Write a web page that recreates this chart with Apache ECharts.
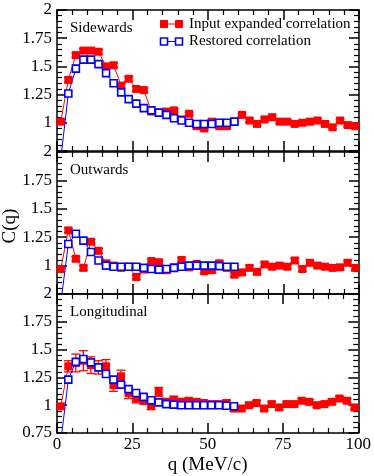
<!DOCTYPE html>
<html>
<head>
<meta charset="utf-8">
<script src="https://cdn.jsdelivr.net/npm/echarts@6/dist/echarts.min.js"></script>
<style>
  html, body { margin: 0; padding: 0; background: #fff; }
  #chart { width: 374px; height: 476px; }
</style>
</head>
<body>
<div id="chart"></div>
<script>
// bin centres (MeV/c)
const qRed = [1.25, 3.75, 6.25, 8.75, 11.25, 13.75, 16.25, 18.75, 21.25, 23.75,
  26.25, 28.75, 31.25, 33.75, 36.25, 38.75, 41.25, 43.75, 46.25, 48.75,
  51.25, 53.75, 56.25, 58.75, 61.25, 63.75, 66.25, 68.75, 71.25, 73.75,
  76.25, 78.75, 81.25, 83.75, 86.25, 88.75, 91.25, 93.75, 96.25, 98.75];
const qBlue = [1.25, 3.75, 6.25, 8.75, 11.25, 13.75, 16.25, 18.75, 21.25, 23.75,
  26.25, 28.75, 31.25, 33.75, 36.25, 38.75, 41.25, 43.75, 46.25, 48.75,
  51.25, 53.75, 56.25, 58.75];

const panelNames = ['Sidewards', 'Outwards', 'Longitudinal'];
const seriesNames = ['Input expanded correlation', 'Restored correlation'];

// input expanded correlation (red)
const sideInput = [1.01, 1.38, 1.60, 1.64, 1.64, 1.63, 1.50, 1.51, 1.33, 1.39,
  1.30, 1.29, 1.10, 1.09, 1.10, 1.11, 1.03, 1.08, 0.97, 0.95,
  1.01, 0.97, 0.97, 1.01, 1.07, 1.02, 0.99, 1.03, 1.05, 1.01,
  1.01, 0.99, 1.00, 1.01, 1.02, 0.99, 0.96, 1.02, 0.98, 0.97];
const outInput = [0.97, 1.31, 1.06, 0.98, 1.21, 1.13, 1.02, 1.00, 0.98, 0.99,
  0.90, 0.965, 1.04, 1.03, 0.96, 0.985, 1.05, 0.985, 1.015, 0.95,
  0.96, 1.02, 0.98, 0.92, 0.94, 0.98, 0.945, 1.01, 0.99, 1.00,
  0.99, 1.045, 0.97, 1.025, 1.00, 0.99, 0.98, 0.985, 1.025, 0.98];
const longInput = [0.99, 1.35, 1.38, 1.40, 1.36, 1.34, 1.35, 1.18, 1.26, 1.11,
  1.06, 1.04, 1.00, 1.12, 1.03, 1.05, 1.03, 1.04, 1.03, 1.02,
  1.01, 1.01, 1.02, 0.97, 0.97, 1.00, 1.02, 0.97, 1.01, 0.98,
  1.01, 1.01, 1.04, 1.03, 1.00, 1.01, 1.03, 1.06, 1.04, 0.98];

// error bar half-heights of the input points
const sideErr = [0.02, 0.02, 0.02, 0.02, 0.02, 0.02, 0.02, 0.02, 0.02, 0.02,
  0.02, 0.02, 0.015, 0.015, 0.015, 0.015, 0.015, 0.015, 0.015, 0.015,
  0.015, 0.015, 0.015, 0.015, 0.015, 0.015, 0.015, 0.015, 0.015, 0.015,
  0.015, 0.015, 0.015, 0.015, 0.015, 0.015, 0.015, 0.015, 0.015, 0.015];
const outErr = [0.02, 0.02, 0.02, 0.02, 0.02, 0.02, 0.02, 0.02, 0.02, 0.02,
  0.02, 0.02, 0.02, 0.02, 0.02, 0.02, 0.02, 0.02, 0.02, 0.02,
  0.02, 0.02, 0.02, 0.02, 0.02, 0.02, 0.02, 0.02, 0.02, 0.02,
  0.02, 0.02, 0.02, 0.02, 0.02, 0.02, 0.02, 0.02, 0.02, 0.02];
const longErr = [0.02, 0.05, 0.08, 0.09, 0.075, 0.06, 0.06, 0.055, 0.055, 0.05,
  0.04, 0.03, 0.04, 0.04, 0.03, 0.03, 0.03, 0.025, 0.025, 0.025,
  0.025, 0.025, 0.025, 0.025, 0.02, 0.02, 0.02, 0.02, 0.02, 0.02,
  0.02, 0.02, 0.02, 0.02, 0.02, 0.02, 0.02, 0.02, 0.02, 0.02];

// restored correlation (blue); first bin lies below the axis range
const sideRestored = [0.68, 1.26, 1.48, 1.56, 1.56, 1.52, 1.44, 1.35, 1.27, 1.21,
  1.17, 1.13, 1.11, 1.09, 1.07, 1.04, 1.02, 1.00, 0.99, 0.99,
  0.99, 1.00, 1.00, 1.01];
const outRestored = [0.67, 1.19, 1.28, 1.22, 1.12, 1.045, 1.00, 0.99, 0.99, 0.99,
  0.99, 0.98, 0.97, 0.965, 0.97, 0.98, 0.99, 1.00, 1.00, 1.00,
  1.00, 0.995, 0.99, 0.99];
const longRestored = [0.67, 1.23, 1.39, 1.415, 1.385, 1.34, 1.28, 1.23, 1.185, 1.145,
  1.11, 1.075, 1.045, 1.025, 1.01, 1.005, 1.00, 1.00, 1.00, 1.00,
  1.00, 1.00, 0.995, 0.99];

const yTicks = [0.75, 1, 1.25, 1.5, 1.75, 2];
const xTicks = [0, 25, 50, 75, 100];

const inputs = [sideInput, outInput, longInput];
const errs = [sideErr, outErr, longErr];
const restored = [sideRestored, outRestored, longRestored];

const FONT = '"Liberation Serif", "DejaVu Serif", serif';
const RED = '#ff0000';
const BLUE = '#0000ff';
const tops = [10, 152, 294];
const heights = [141, 142, 143];

const chart = echarts.init(document.getElementById('chart'));

const grid = [], xAxis = [], yAxis = [], series = [], graphic = [];

function xAx(i, pos, labels) {
  return {
    type: 'value', gridIndex: i, position: pos,
    min: xTicks[0], max: xTicks[xTicks.length - 1], interval: xTicks[1] - xTicks[0],
    axisLine: { onZero: false, lineStyle: { color: '#000', width: 1.5 } },
    axisTick: { inside: true, length: 10, lineStyle: { color: '#000', width: 1.5 } },
    minorTick: { show: true, splitNumber: 5, length: 5, lineStyle: { color: '#000', width: 1.2 } },
    splitLine: { show: false },
    axisLabel: { show: labels, color: '#000', fontFamily: FONT, fontSize: 17, margin: 3 },
    name: labels ? 'q (MeV/c)' : '',
    nameLocation: 'middle', nameGap: 23,
    nameTextStyle: { color: '#000', fontFamily: FONT, fontSize: 19 }
  };
}

function yAx(i, pos, labels) {
  return {
    type: 'value', gridIndex: i, position: pos,
    min: yTicks[0], max: yTicks[yTicks.length - 1], interval: yTicks[1] - yTicks[0],
    axisLine: { onZero: false, lineStyle: { color: '#000', width: 1.5 } },
    axisTick: { inside: true, length: 10, lineStyle: { color: '#000', width: 1.5 } },
    minorTick: { show: true, splitNumber: 5, length: 5, lineStyle: { color: '#000', width: 1.2 } },
    splitLine: { show: false },
    axisLabel: {
      show: labels, color: '#000', fontFamily: FONT, fontSize: 17, margin: 5,
      showMinLabel: true, showMaxLabel: true,
      formatter: v => (v === yTicks[0] && i < 2) ? '' : String(v)
    }
  };
}

for (let i = 0; i < 3; i++) {
  grid.push({ left: 57, right: 15, top: tops[i], height: heights[i] });
  xAxis.push(xAx(i, 'bottom', i === 2), xAx(i, 'top', false));
  yAxis.push(yAx(i, 'left', true), yAx(i, 'right', false));

  series.push({
    type: 'custom', xAxisIndex: 2 * i, yAxisIndex: 2 * i, clip: true,
    encode: { x: 0, y: [1, 2] },
    data: qRed.map((q, k) => [q, inputs[i][k] - errs[i][k], inputs[i][k] + errs[i][k]]),
    renderItem: (params, api) => {
      const p1 = api.coord([api.value(0), api.value(1)]);
      const p2 = api.coord([api.value(0), api.value(2)]);
      const w = 4.5;
      const st = { stroke: RED, lineWidth: 1.3 };
      return {
        type: 'group', children: [
          { type: 'line', shape: { x1: p1[0], y1: p1[1], x2: p2[0], y2: p2[1] }, style: st },
          { type: 'line', shape: { x1: p1[0] - w, y1: p1[1], x2: p1[0] + w, y2: p1[1] }, style: st },
          { type: 'line', shape: { x1: p2[0] - w, y1: p2[1], x2: p2[0] + w, y2: p2[1] }, style: st }
        ]
      };
    }
  });
  series.push({
    name: seriesNames[0], type: 'line', xAxisIndex: 2 * i, yAxisIndex: 2 * i,
    data: qRed.map((q, k) => [q, inputs[i][k]]),
    symbol: 'rect', symbolSize: 8, clip: true,
    itemStyle: { color: RED },
    lineStyle: { color: RED, width: 1 }
  });
  series.push({
    name: seriesNames[1], type: 'line', xAxisIndex: 2 * i, yAxisIndex: 2 * i,
    data: qBlue.map((q, k) => [q, restored[i][k]]),
    symbol: 'rect', symbolSize: 7, clip: true,
    itemStyle: { color: '#fff', borderColor: BLUE, borderWidth: 1.6 },
    lineStyle: { color: BLUE, width: 1 }
  });

  graphic.push({
    type: 'text', left: 70, top: tops[i] + 11,
    style: { text: panelNames[i], fill: '#000', font: '15px ' + FONT }
  });
}

// y axis title
graphic.push({
  type: 'text', x: 10, y: 226, rotation: Math.PI / 2,
  style: { text: 'C(q)', fill: '#000', font: '19px ' + FONT, align: 'center', verticalAlign: 'middle' }
});

// legend
[[RED, RED, 24], ['#fff', BLUE, 41.5]].forEach(([fill, stroke, y], k) => {
  graphic.push({ type: 'line', shape: { x1: 164, y1: y, x2: 179, y2: y }, style: { stroke: stroke, lineWidth: 1 } });
  [164, 179].forEach(cx => graphic.push({
    type: 'rect', shape: { x: cx - 3.5, y: y - 3.5, width: 7, height: 7 },
    style: { fill: fill, stroke: stroke, lineWidth: k === 0 ? 1 : 1.6 }
  }));
  graphic.push({
    type: 'text', x: 189, y: y,
    style: { text: seriesNames[k], fill: '#000', font: '15px ' + FONT, verticalAlign: 'middle' }
  });
});

chart.setOption({
  animation: false,
  backgroundColor: '#fff',
  grid, xAxis, yAxis, series, graphic
});
</script>
</body>
</html>
